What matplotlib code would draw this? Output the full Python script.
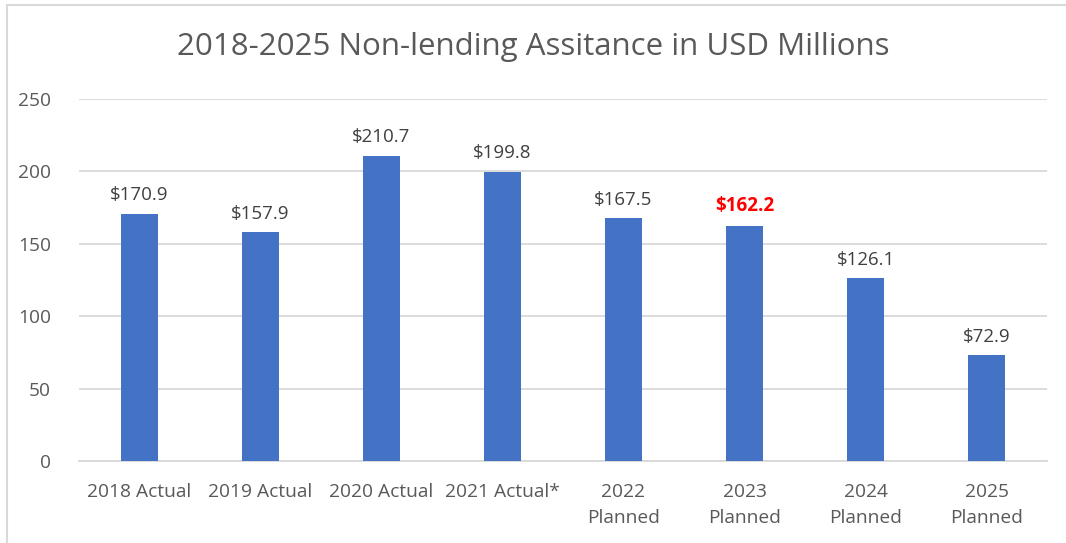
import matplotlib.pyplot as plt
from matplotlib.patches import Rectangle

categories = ["2018 Actual", "2019 Actual", "2020 Actual", "2021 Actual*",
              "2022\nPlanned", "2023\nPlanned", "2024\nPlanned", "2025\nPlanned"]
values = [170.9, 157.9, 210.7, 199.8, 167.5, 162.2, 126.1, 72.9]
highlight = "2023\nPlanned"
yticks = [0, 50, 100, 150, 200, 250]

plt.rcParams["font.family"] = ["Open Sans", "DejaVu Sans"]
text_color = "#595959"
bar_color = "#4472C4"
grid_color = "#D9D9D9"

fig = plt.figure(figsize=(10.66, 5.43), dpi=100)
ax = fig.add_axes([79 / 1066, 1 - 461 / 543, (1047 - 79) / 1066, (461 - 99) / 543])

# outer chart border (cropped on right/bottom)
fig.patches.append(Rectangle((7 / 1066, -0.1), 1.2, 1 - 5 / 543 + 0.1,
                             transform=fig.transFigure, fill=False,
                             edgecolor=grid_color, linewidth=1.5))

x = list(range(len(categories)))
ax.bar(x, values, width=0.31, color=bar_color, zorder=3)

for xi, cat, v in zip(x, categories, values):
    if cat == highlight:
        ax.annotate(f"${v:.1f}", (xi, v), xytext=(0, 7), textcoords="offset points",
                    ha="center", va="bottom", fontsize=13.5, color="#FF0000", fontweight="bold")
    else:
        ax.annotate(f"${v:.1f}", (xi, v), xytext=(0, 7), textcoords="offset points",
                    ha="center", va="bottom", fontsize=13.5, color="#404040")

ax.set_xlim(-0.5, len(categories) - 0.5)
ax.set_ylim(0, 250)
ax.set_yticks(yticks)
ax.set_xticks(x)
ax.set_xticklabels(categories, fontsize=13.8, color=text_color, linespacing=1.55)
ax.tick_params(axis="y", labelsize=13.8, labelcolor=text_color, length=0, pad=20)
ax.tick_params(axis="x", length=0, pad=16)
ax.grid(axis="y", color=grid_color, linewidth=1.3, zorder=0)
for side in ["top", "right", "left"]:
    ax.spines[side].set_visible(False)
ax.spines["bottom"].set_color(grid_color)
ax.spines["bottom"].set_linewidth(1.3)

fig.text(0.5, 1 - 47 / 543, "2018-2025 Non-lending Assitance in USD Millions",
         ha="center", va="center", fontsize=22.5, color=text_color)

fig.savefig("out.png", dpi=100)
